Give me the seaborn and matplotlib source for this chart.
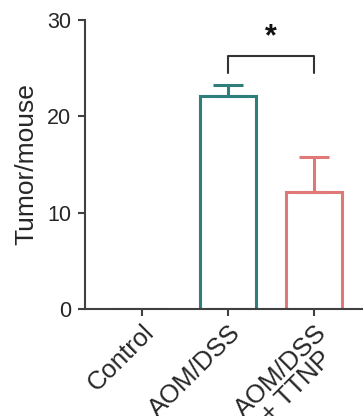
import matplotlib
matplotlib.use("Agg")
import matplotlib.pyplot as plt
import seaborn as sns
import pandas as pd

# Tumor counts per mouse (mean and SEM)
groups = ["Control", "AOM/DSS", "AOM/DSS\n+ TTNP"]
means = [0.0, 22.1, 12.1]
sems = [0.0, 1.2, 3.65]
colors = ["#404040", "#2e7f7c", "#e07878"]
yticks = [0, 10, 20, 30]

sns.set_style("ticks")
plt.rcParams["font.family"] = ["Liberation Sans", "DejaVu Sans"]

fig = plt.figure(figsize=(3.63, 4.16), dpi=100)
ax = fig.add_axes([0.234, 0.257, 0.766, 0.695])

df = pd.DataFrame({"group": groups, "tumors": means})
sns.barplot(data=df, x="group", y="tumors", hue="group", palette=colors,
            fill=False, width=0.65, linewidth=2.2, legend=False, ax=ax,
            errorbar=None)

# upward-only SEM bars
for i, (m, s, c) in enumerate(zip(means, sems, colors)):
    if s > 0:
        ax.errorbar(i, m, yerr=[[0], [s]], color=c, elinewidth=2.2,
                    capsize=10.8, capthick=2.2, fmt="none", zorder=3)

# significance bracket between the two treated groups
bx1, bx2, by, bh = 1, 2, 26.3, 1.8
ax.plot([bx1, bx1, bx2, bx2], [by - bh, by, by, by - bh],
        color="#333333", lw=1.5, clip_on=False)
ax.text((bx1 + bx2) / 2, by + 0.4, "*", ha="center", va="bottom",
        fontsize=22, fontweight="bold", color="#111111")

ax.set_ylim(0, 30)
ax.set_xlim(-0.663, 2.57)
ax.set_yticks(yticks)
ax.set_ylabel("Tumor/mouse", fontsize=19, labelpad=6)
ax.set_xlabel("")
ax.tick_params(axis="y", labelsize=15.5, length=5, width=1.5, color="#404040", pad=5)
ax.tick_params(axis="x", labelsize=18.5, length=5, width=1.5, color="#404040", pad=3)
for lbl in ax.get_xticklabels():
    lbl.set_rotation(45)
    lbl.set_ha("right")
    lbl.set_va("top")
    lbl.set_rotation_mode("anchor")
    lbl.set_multialignment("center")
    lbl.set_linespacing(0.95)

sns.despine(ax=ax)
for side in ("left", "bottom"):
    ax.spines[side].set_linewidth(1.5)
    ax.spines[side].set_color("#404040")

fig.savefig("out.png", dpi=100)
